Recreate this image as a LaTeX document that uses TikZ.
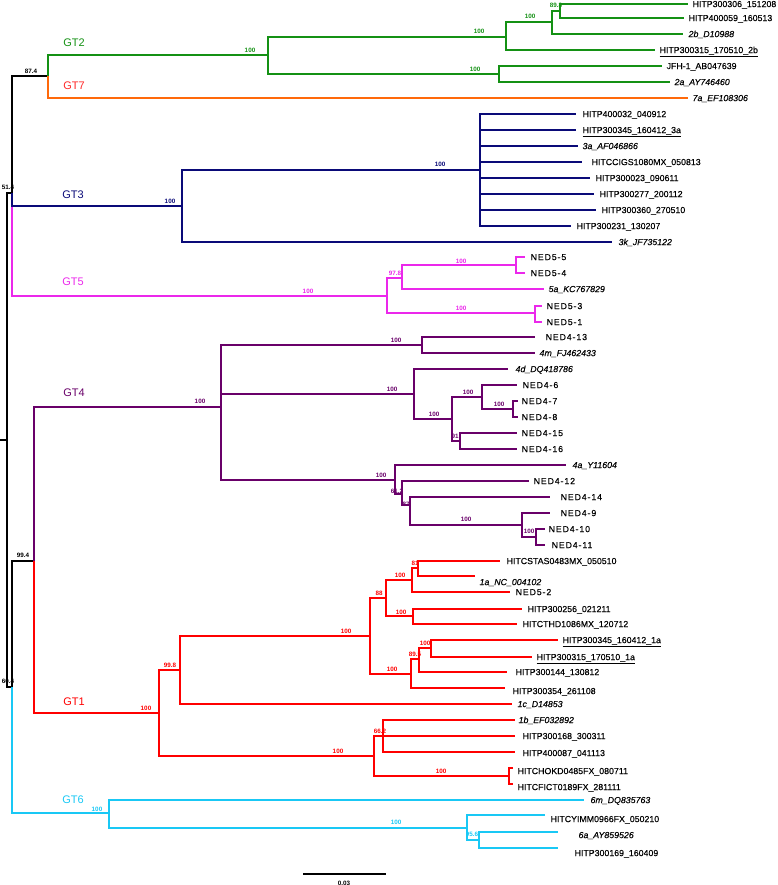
\documentclass[tikz,border=0pt]{standalone}
\usepackage{fontspec}
\setmainfont{Liberation Sans}[FakeBold=0.2]
\newfontfamily\nedf[LetterSpace=10,FakeBold=0.2]{Liberation Sans}
\newfontfamily\supf{Liberation Sans}
\definecolor{gtg}{RGB}{20,145,20}
\definecolor{gto}{RGB}{255,105,10}
\definecolor{gtrs}{RGB}{255,40,40}
\definecolor{gtn}{RGB}{10,10,120}
\definecolor{gtm}{RGB}{235,40,235}
\definecolor{gtp}{RGB}{105,0,105}
\definecolor{gtr}{RGB}{255,0,0}
\definecolor{gtc}{RGB}{25,200,245}
\newcommand\lf[5]{\coordinate (#1) at (#2,#3); \node[leaf] (#1t) at (#4,{#5+3.1})}
\newcommand\ed[3]{\draw[#1] (#2) |- (#3);}
\newcommand\sv[4]{\node[sup,text=#2] (#1) at (#3,#4)}
\begin{document}
\begin{tikzpicture}[x=1pt,y=-1pt,line width=1.2pt,
 leaf/.style={anchor=base west,inner sep=0pt,font=\fontsize{8.8}{10}\selectfont},
 sup/.style={inner sep=0pt,font=\supf\fontsize{6.3}{7}\selectfont\bfseries},
 clade/.style={inner sep=0pt,font=\supf\fontsize{11}{12}\selectfont}]
\useasboundingbox (0,0) rectangle (778,885);
% backbone coordinates
\coordinate (R0) at (0,440);
\coordinate (R) at (7,440);
\coordinate (U) at (12,193);
\coordinate (L) at (12,687);
\coordinate (A) at (48,76);
\coordinate (N99) at (34,561);
% GT2
\coordinate (G2) at (268,55);
\coordinate (G2a) at (506,37);
\coordinate (G2c) at (552,22);
\coordinate (G2d) at (560,11);
\coordinate (G2b) at (499,74);
\lf{l1}{688}{4}{692}{4}{HITP300306\_151208};
\lf{l2}{684}{18}{688}{18}{HITP400059\_160513};
\lf{l3}{683}{34}{688}{34}{\itshape 2b\_D10988};
\lf{l4}{655}{50}{659}{50}{\underline{HITP300315\_170510\_2b}};
\lf{l5}{662}{66}{666}{66}{JFH-1\_AB047639};
\lf{l6}{670}{82}{674}{82}{\itshape 2a\_AY746460};
\lf{l7}{688}{98}{692}{98}{\itshape 7a\_EF108306};
% GT3
\coordinate (G3) at (182,206);
\coordinate (G3a) at (480,170);
\lf{m1}{576}{114}{582}{114}{HITP400032\_040912};
\lf{m2}{576}{130}{582}{130}{\underline{HITP300345\_160412\_3a}};
\lf{m3}{578}{146}{582}{146}{\itshape 3a\_AF046866};
\lf{m4}{582}{162}{591}{162}{HITCCIGS1080MX\_050813};
\lf{m5}{590}{178}{595}{178}{HITP300023\_090611};
\lf{m6}{594}{194}{599}{194}{HITP300277\_200112};
\lf{m7}{596}{210}{601}{210}{HITP300360\_270510};
\lf{m8}{571}{226}{576}{226}{HITP300231\_130207};
\lf{m9}{612}{242}{618}{242}{\itshape 3k\_JF735122};
% GT5
\coordinate (G5) at (387,296);
\coordinate (G5a) at (402,278);
\coordinate (G5c) at (516,265);
\coordinate (G5b) at (535,313);
\lf{n1}{525}{257}{530}{257}{\nedf NED5-5};
\lf{n2}{525}{273}{530}{273}{\nedf NED5-4};
\lf{n3}{544}{289}{548}{289}{\itshape 5a\_KC767829};
\lf{n4}{542}{306}{546}{306}{\nedf NED5-3};
\lf{n5}{542}{322}{546}{322}{\nedf NED5-1};
% GT4
\coordinate (G4) at (221,407);
\coordinate (G4a) at (422,345);
\coordinate (G4b) at (414,394);
\coordinate (G4d) at (452,419);
\coordinate (G4e) at (482,397);
\coordinate (G4g) at (513,409);
\coordinate (G4f) at (460,441);
\coordinate (G4c) at (395,480);
\coordinate (G4h) at (402,494);
\coordinate (G4i) at (410,505);
\coordinate (G4j) at (522,525);
\coordinate (G4k) at (536,537);
\lf{p1}{535}{337}{545}{337}{\nedf NED4-13};
\lf{p2}{535}{353}{539}{353}{\itshape 4m\_FJ462433};
\lf{p3}{508}{369}{515}{369}{\itshape 4d\_DQ418786};
\lf{p4}{517}{385}{522}{385}{\nedf NED4-6};
\lf{p5}{518}{401}{521}{401}{\nedf NED4-7};
\lf{p6}{518}{417}{521}{417}{\nedf NED4-8};
\lf{p7}{517}{433}{521}{433}{\nedf NED4-15};
\lf{p8}{517}{449}{521}{449}{\nedf NED4-16};
\lf{p9}{566}{465}{572}{465}{\itshape 4a\_Y11604};
\lf{p10}{529}{481}{533}{481}{\nedf NED4-12};
\lf{p11}{550}{497}{560}{497}{\nedf NED4-14};
\lf{p12}{550}{513}{560}{513}{\nedf NED4-9};
\lf{p13}{545}{529}{548}{529}{\nedf NED4-10};
\lf{p14}{545}{545}{551}{545}{\nedf NED4-11};
% GT1
\coordinate (G1) at (159,713);
\coordinate (G1a) at (180,670);
\coordinate (G1c) at (370,636);
\coordinate (G1d) at (386,598);
\coordinate (G1f) at (412,580);
\coordinate (G1h) at (418,568);
\coordinate (G1g) at (413,616);
\coordinate (G1e) at (411,674);
\coordinate (G1i) at (419,659);
\coordinate (G1j) at (431,648);
\coordinate (G1b) at (374,756);
\coordinate (G1k) at (383,736);
\coordinate (G1l) at (509,776);
\lf{q1}{500}{561}{506}{561}{HITCSTAS0483MX\_050510};
\lf{q2}{475}{576}{479}{582}{\itshape 1a\_NC\_004102};
\lf{q3}{510}{592}{515}{592}{\nedf NED5-2};
\lf{q4}{522}{609}{527}{609}{HITP300256\_021211};
\lf{q5}{517}{624}{522}{624}{HITCTHD1086MX\_120712};
\lf{q6}{558}{640}{562}{640}{\underline{HITP300345\_160412\_1a}};
\lf{q7}{532}{657}{536}{657}{\underline{HITP300315\_170510\_1a}};
\lf{q8}{507}{672}{515}{672}{HITP300144\_130812};
\lf{q9}{505}{688}{512}{691}{HITP300354\_261108};
\lf{q10}{512}{704}{517}{704}{\itshape 1c\_D14853};
\lf{q11}{515}{720}{518}{720}{\itshape 1b\_EF032892};
\lf{q12}{515}{736}{522}{736}{HITP300168\_300311};
\lf{q13}{515}{752}{522}{753}{HITP400087\_041113};
\lf{q14}{513}{768}{517}{771}{HITCHOKD0485FX\_080711};
\lf{q15}{513}{784}{517}{787}{HITCFICT0189FX\_281111};
% GT6
\coordinate (G6) at (109,813);
\coordinate (G6a) at (467,828);
\coordinate (G6b) at (479,840);
\lf{r1}{584}{800}{590}{800}{\itshape 6m\_DQ835763};
\lf{r2}{545}{815}{550}{819}{HITCYIMM0966FX\_050210};
\lf{r3}{558}{832}{578}{835}{\itshape 6a\_AY859526};
\lf{r4}{558}{848}{574}{853}{HITP300169\_160409};
% ---------- edges ----------
\draw (R0) -- (R);
\ed{black}{R}{U}
\ed{black}{R}{L}
\ed{gtm}{U}{G5}
\ed{gtn}{U}{G3}
\ed{black}{U}{A}
\ed{gtc}{L}{G6}
\ed{black}{L}{N99}
\ed{gtp}{N99}{G4}
\ed{gtr}{N99}{G1}
% GT2 / GT7
\ed{gto}{A}{l7}
\ed{gtg}{A}{G2}
\ed{gtg}{G2}{G2a}
\ed{gtg}{G2}{G2b}
\ed{gtg}{G2a}{G2c}
\ed{gtg}{G2a}{l4}
\ed{gtg}{G2c}{G2d}
\ed{gtg}{G2c}{l3}
\ed{gtg}{G2d}{l1}
\ed{gtg}{G2d}{l2}
\ed{gtg}{G2b}{l5}
\ed{gtg}{G2b}{l6}
% GT3
\ed{gtn}{G3}{G3a}
\ed{gtn}{G3}{m9}
\foreach \k in {1,...,8} {\ed{gtn}{G3a}{m\k}}
% GT5
\ed{gtm}{G5}{G5a}
\ed{gtm}{G5}{G5b}
\ed{gtm}{G5a}{G5c}
\ed{gtm}{G5a}{n3}
\ed{gtm}{G5c}{n1}
\ed{gtm}{G5c}{n2}
\ed{gtm}{G5b}{n4}
\ed{gtm}{G5b}{n5}
% GT4
\ed{gtp}{G4}{G4a}
\ed{gtp}{G4}{G4b}
\ed{gtp}{G4}{G4c}
\ed{gtp}{G4a}{p1}
\ed{gtp}{G4a}{p2}
\ed{gtp}{G4b}{p3}
\ed{gtp}{G4b}{G4d}
\ed{gtp}{G4d}{G4e}
\ed{gtp}{G4d}{G4f}
\ed{gtp}{G4e}{p4}
\ed{gtp}{G4e}{G4g}
\ed{gtp}{G4g}{p5}
\ed{gtp}{G4g}{p6}
\ed{gtp}{G4f}{p7}
\ed{gtp}{G4f}{p8}
\ed{gtp}{G4c}{p9}
\ed{gtp}{G4c}{G4h}
\ed{gtp}{G4h}{p10}
\ed{gtp}{G4h}{G4i}
\ed{gtp}{G4i}{p11}
\ed{gtp}{G4i}{G4j}
\ed{gtp}{G4j}{p12}
\ed{gtp}{G4j}{G4k}
\ed{gtp}{G4k}{p13}
\ed{gtp}{G4k}{p14}
% GT1
\ed{gtr}{G1}{G1a}
\ed{gtr}{G1}{G1b}
\ed{gtr}{G1a}{G1c}
\ed{gtr}{G1a}{q10}
\ed{gtr}{G1c}{G1d}
\ed{gtr}{G1c}{G1e}
\ed{gtr}{G1d}{G1f}
\ed{gtr}{G1d}{G1g}
\ed{gtr}{G1f}{G1h}
\ed{gtr}{G1f}{q3}
\ed{gtr}{G1h}{q1}
\ed{gtr}{G1h}{q2}
\ed{gtr}{G1g}{q4}
\ed{gtr}{G1g}{q5}
\ed{gtr}{G1e}{G1i}
\ed{gtr}{G1e}{q9}
\ed{gtr}{G1i}{G1j}
\ed{gtr}{G1i}{q8}
\ed{gtr}{G1j}{q6}
\ed{gtr}{G1j}{q7}
\ed{gtr}{G1b}{G1k}
\ed{gtr}{G1b}{G1l}
\ed{gtr}{G1k}{q11}
\ed{gtr}{G1k}{q12}
\ed{gtr}{G1k}{q13}
\ed{gtr}{G1l}{q14}
\ed{gtr}{G1l}{q15}
% GT6
\ed{gtc}{G6}{r1}
\ed{gtc}{G6}{G6a}
\ed{gtc}{G6a}{r2}
\ed{gtc}{G6a}{G6b}
\ed{gtc}{G6b}{r3}
\ed{gtc}{G6b}{r4}
% ---------- clade labels ----------
\node[clade,text=gtg] (t2) at (74,43) {GT2};
\node[clade,text=gtrs] (t7) at (74,86) {GT7};
\node[clade,text=gtn] (t3) at (73,195) {GT3};
\node[clade,text=gtm] (t5) at (73,282) {GT5};
\node[clade,text=gtp] (t4) at (74,393) {GT4};
\node[clade,text=gtr] (t1) at (74,702) {GT1};
\node[clade,text=gtc] (t6) at (73,800) {GT6};
% ---------- support values ----------
\sv{s1}{black}{31}{71}{87.4};
\sv{s2}{black}{8}{187}{51.4};
\sv{s3}{black}{23}{555}{99.4};
\sv{s4}{black}{8}{681}{60.4};
\sv{s5}{gtg}{250}{50}{100};
\sv{s6}{gtg}{479}{31}{100};
\sv{s7}{gtg}{530}{16}{100};
\sv{s8}{gtg}{556}{5}{89.8};
\sv{s9}{gtg}{475}{69}{100};
\sv{s10}{gtn}{170}{201}{100};
\sv{s11}{gtn}{440}{164}{100};
\sv{s12}{gtm}{308}{291}{100};
\sv{s13}{gtm}{395}{273}{97.8};
\sv{s14}{gtm}{461}{261}{100};
\sv{s15}{gtm}{461}{308}{100};
\sv{s16}{gtp}{200}{401}{100};
\sv{s17}{gtp}{396}{340}{100};
\sv{s18}{gtp}{392}{389}{100};
\sv{s19}{gtp}{434}{414}{100};
\sv{s20}{gtp}{468}{392}{100};
\sv{s21}{gtp}{499}{404}{100};
\sv{s22}{gtp}{455}{436}{91};
\sv{s23}{gtp}{381}{475}{100};
\sv{s24}{gtp}{397}{491}{61.2};
\sv{s25}{gtp}{406}{504}{87};
\sv{s26}{gtp}{466}{519}{100};
\sv{s27}{gtp}{529}{531}{100};
\sv{s28}{gtr}{146}{708}{100};
\sv{s29}{gtr}{170}{665}{99.8};
\sv{s30}{gtr}{346}{631}{100};
\sv{s31}{gtr}{379}{593}{88};
\sv{s32}{gtr}{400}{575}{100};
\sv{s33}{gtr}{415}{563}{81};
\sv{s34}{gtr}{401}{612}{100};
\sv{s35}{gtr}{392}{669}{100};
\sv{s36}{gtr}{415}{654}{89.5};
\sv{s37}{gtr}{425}{643}{100};
\sv{s38}{gtr}{338}{751}{100};
\sv{s39}{gtr}{380}{731}{66.2};
\sv{s40}{gtr}{441}{771}{100};
\sv{s41}{gtc}{97}{809}{100};
\sv{s42}{gtc}{396}{822}{100};
\sv{s43}{gtc}{472}{834}{95.6};
% ---------- scale bar ----------
\coordinate (sb1) at (303,874);
\coordinate (sb2) at (386,874);
\draw (sb1) -- (sb2);
\node[sup] (sbl) at (344,883) {0.03};
\end{tikzpicture}
\end{document}
